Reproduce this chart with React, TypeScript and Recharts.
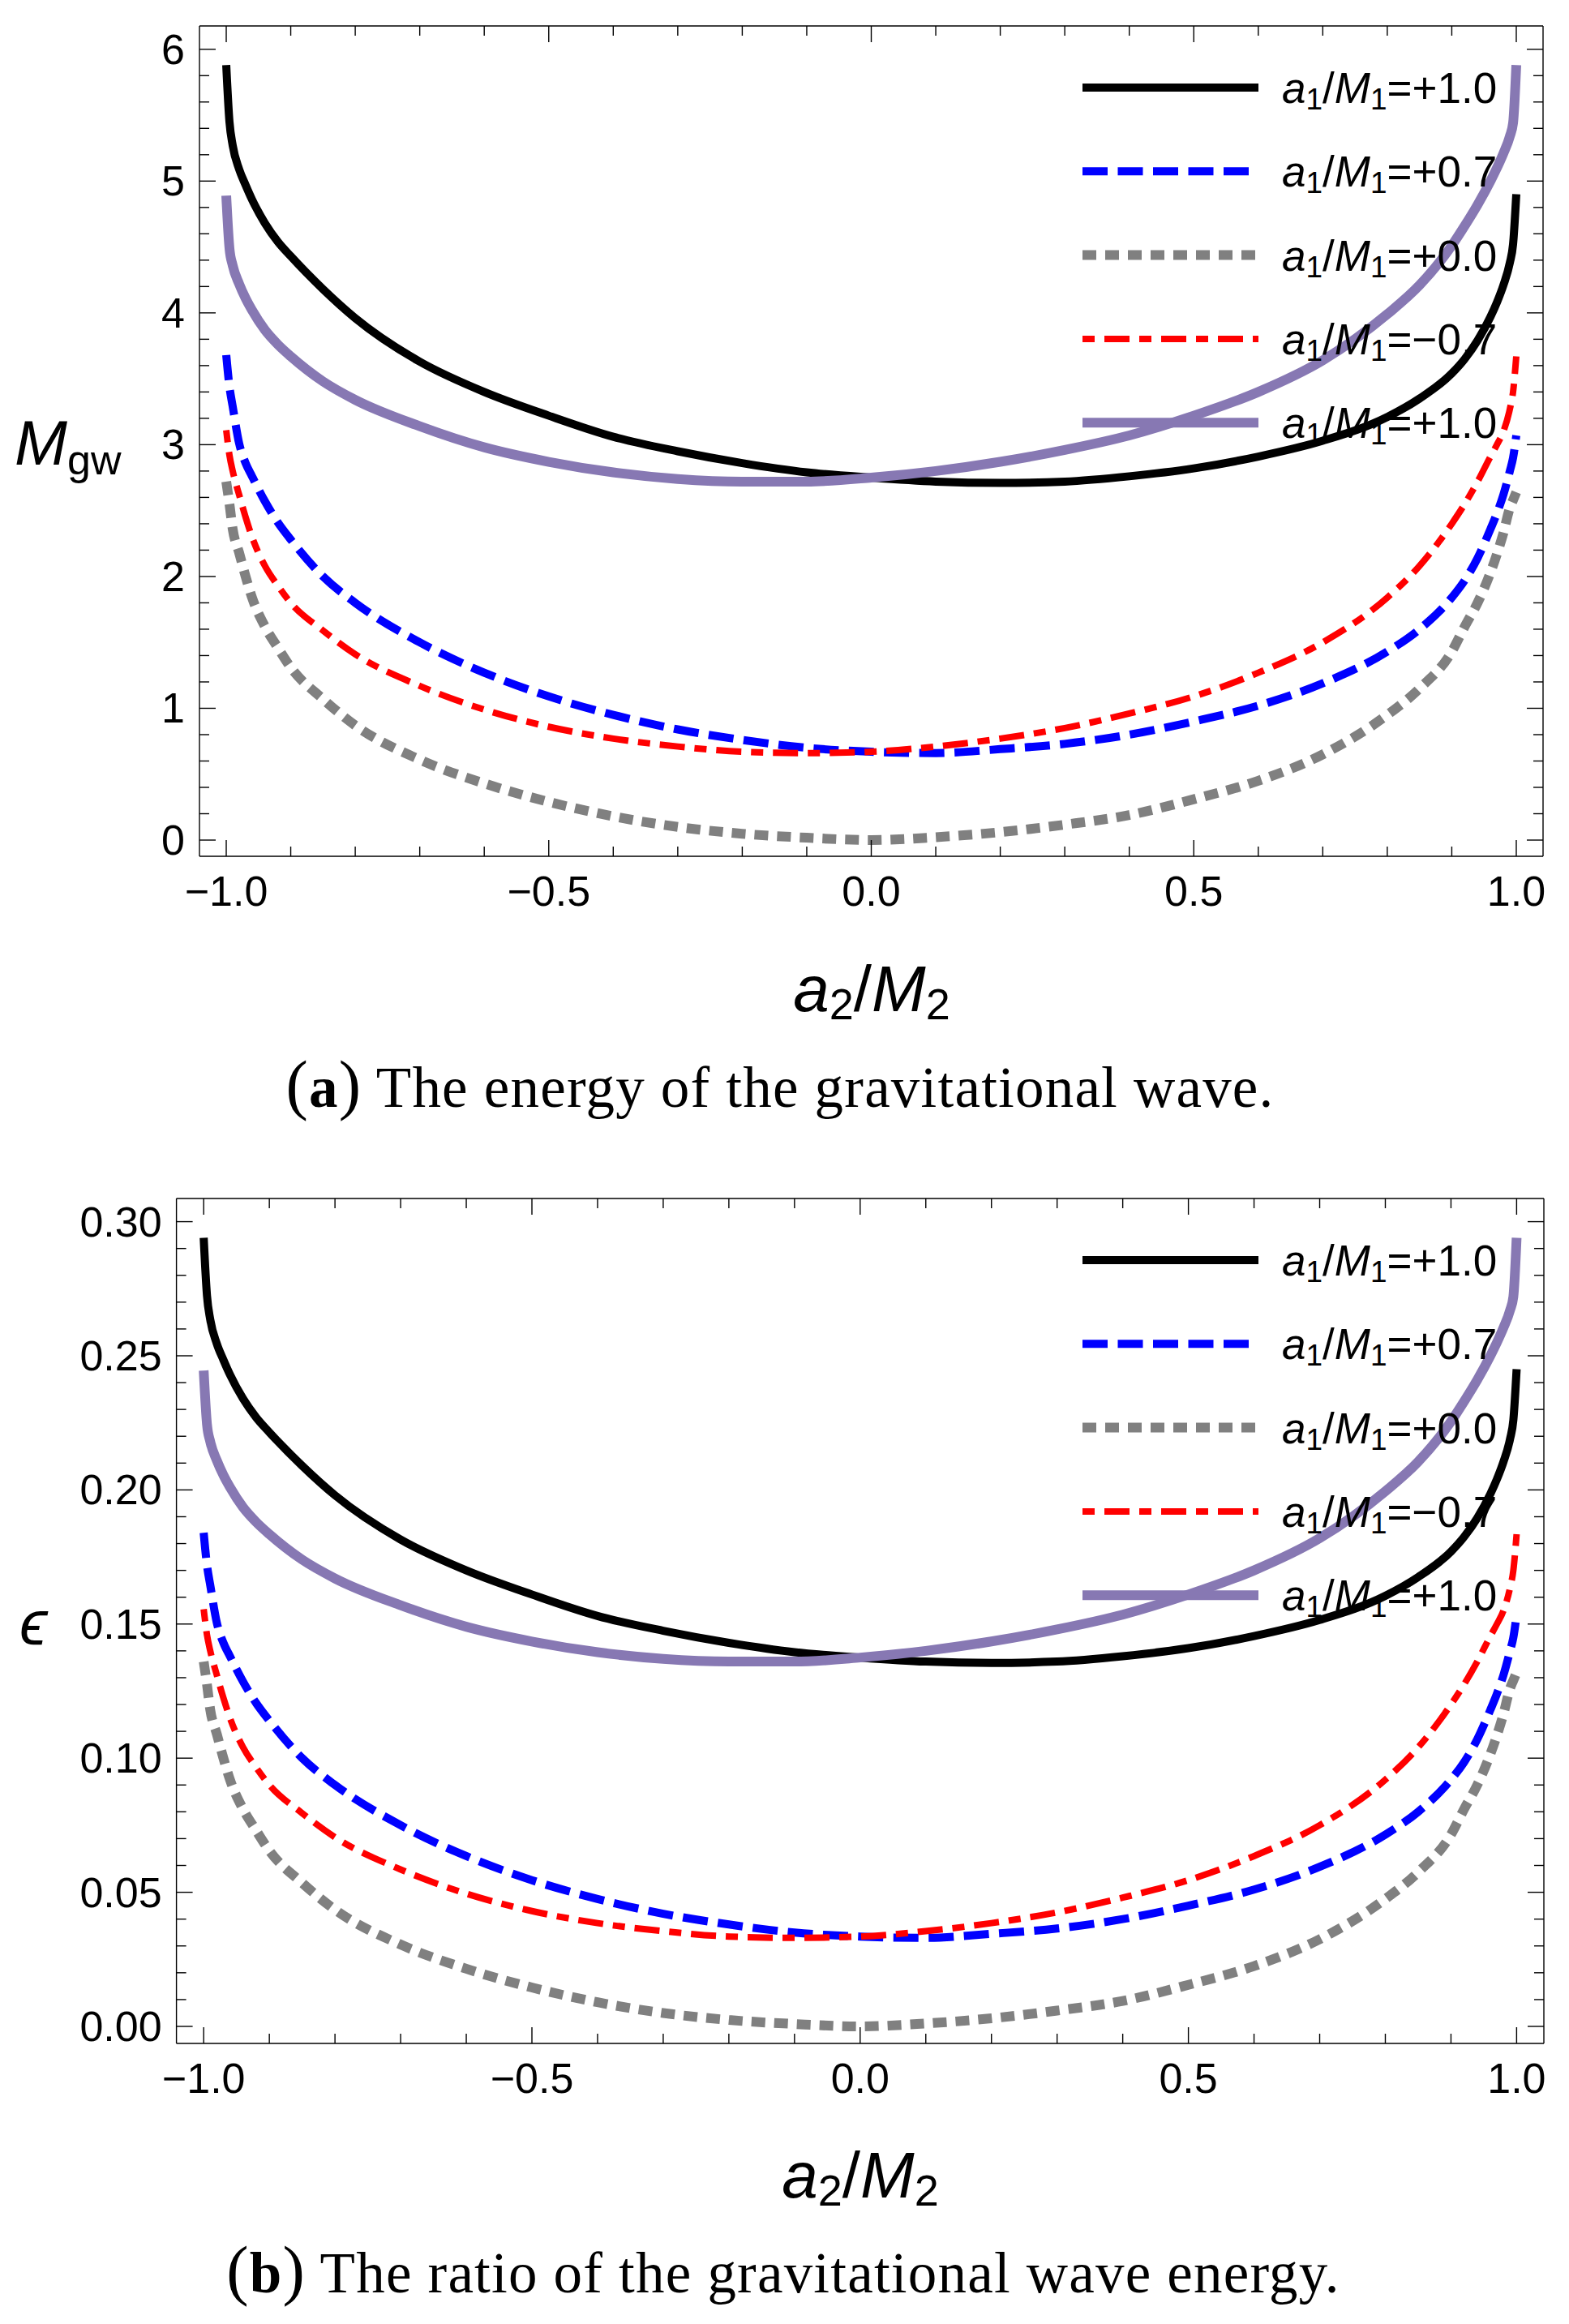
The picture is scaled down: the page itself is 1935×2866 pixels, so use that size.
import React from 'react';
import { LineChart, Line, XAxis, YAxis, Legend } from 'recharts';

// horizontal axis: a2/M2 sample points
const a2Values = [
  -1, -0.995, -0.99, -0.98, -0.97, -0.96, -0.94, -0.92, -0.9, -0.85, -0.8, -0.7, -0.6, -0.5, -0.4, -0.3, -0.2, -0.1,
  0, 0.1, 0.2, 0.3, 0.4, 0.5, 0.6, 0.7, 0.8, 0.85, 0.9, 0.92, 0.94, 0.96, 0.97, 0.98, 0.99, 0.995, 1,
];

// (a) M_gw
const mgwPlus10 = [5.88, 5.45, 5.27, 5.09, 4.97, 4.86, 4.68, 4.54, 4.43, 4.18, 3.96, 3.63, 3.4, 3.22, 3.06, 2.95, 2.86, 2.79, 2.75, 2.72, 2.71, 2.72, 2.76, 2.82, 2.91, 3.03, 3.21, 3.35, 3.54, 3.65, 3.79, 3.97, 4.08, 4.21, 4.38, 4.52, 4.9];
const mgwPlus07 = [3.68, 3.44, 3.29, 3.01, 2.86, 2.76, 2.57, 2.41, 2.28, 2.0, 1.8, 1.5, 1.27, 1.09, 0.95, 0.84, 0.76, 0.7, 0.67, 0.66, 0.69, 0.73, 0.8, 0.9, 1.02, 1.19, 1.43, 1.6, 1.84, 1.97, 2.14, 2.36, 2.48, 2.62, 2.8, 2.9, 3.07];
const mgwZero = [2.72, 2.55, 2.36, 2.18, 2.0, 1.84, 1.62, 1.46, 1.31, 1.07, 0.87, 0.61, 0.43, 0.29, 0.18, 0.1, 0.048, 0.018, 0, 0.022, 0.06, 0.117, 0.19, 0.31, 0.45, 0.65, 0.95, 1.15, 1.43, 1.62, 1.8, 2.03, 2.17, 2.33, 2.52, 2.58, 2.64];
const mgwMinus07 = [3.11, 2.92, 2.8, 2.62, 2.45, 2.3, 2.08, 1.93, 1.8, 1.59, 1.41, 1.17, 0.99, 0.86, 0.77, 0.71, 0.67, 0.66, 0.67, 0.71, 0.77, 0.85, 0.96, 1.09, 1.27, 1.5, 1.84, 2.08, 2.4, 2.55, 2.72, 2.91, 3.0, 3.1, 3.27, 3.4, 3.67];
const mgwPlus10b = [4.89, 4.49, 4.36, 4.22, 4.11, 4.02, 3.87, 3.76, 3.67, 3.48, 3.34, 3.14, 2.98, 2.87, 2.79, 2.74, 2.72, 2.72, 2.75, 2.8, 2.87, 2.96, 3.07, 3.22, 3.4, 3.64, 3.99, 4.21, 4.51, 4.66, 4.82, 5.0, 5.1, 5.21, 5.34, 5.44, 5.88];

// (b) epsilon
const epsPlus10 = [0.294, 0.2725, 0.2635, 0.2545, 0.2485, 0.243, 0.234, 0.227, 0.2215, 0.209, 0.198, 0.1815, 0.17, 0.161, 0.153, 0.1475, 0.143, 0.1395, 0.1375, 0.136, 0.1355, 0.136, 0.138, 0.141, 0.1455, 0.1515, 0.1605, 0.1675, 0.177, 0.1825, 0.1895, 0.1985, 0.204, 0.2105, 0.219, 0.226, 0.245];
const epsPlus07 = [0.184, 0.172, 0.1645, 0.1505, 0.143, 0.138, 0.1285, 0.1205, 0.114, 0.1, 0.09, 0.075, 0.0635, 0.0545, 0.0475, 0.042, 0.038, 0.035, 0.0335, 0.033, 0.0345, 0.0365, 0.04, 0.045, 0.051, 0.0595, 0.0715, 0.08, 0.092, 0.0985, 0.107, 0.118, 0.124, 0.131, 0.14, 0.145, 0.1535];
const epsZero = [0.136, 0.1275, 0.118, 0.109, 0.1, 0.092, 0.081, 0.073, 0.0655, 0.0535, 0.0435, 0.0305, 0.0215, 0.0145, 0.009, 0.005, 0.0024, 0.0009, 0, 0.0011, 0.003, 0.0059, 0.0095, 0.0155, 0.0225, 0.0325, 0.0475, 0.0575, 0.0715, 0.081, 0.09, 0.1015, 0.1085, 0.1165, 0.126, 0.129, 0.132];
const epsMinus07 = [0.1555, 0.146, 0.14, 0.131, 0.1225, 0.115, 0.104, 0.0965, 0.09, 0.0795, 0.0705, 0.0585, 0.0495, 0.043, 0.0385, 0.0355, 0.0335, 0.033, 0.0335, 0.0355, 0.0385, 0.0425, 0.048, 0.0545, 0.0635, 0.075, 0.092, 0.104, 0.12, 0.1275, 0.136, 0.1455, 0.15, 0.155, 0.1635, 0.17, 0.1835];
const epsPlus10b = [0.2445, 0.2245, 0.218, 0.211, 0.2055, 0.201, 0.1935, 0.188, 0.1835, 0.174, 0.167, 0.157, 0.149, 0.1435, 0.1395, 0.137, 0.136, 0.136, 0.1375, 0.14, 0.1435, 0.148, 0.1535, 0.161, 0.17, 0.182, 0.1995, 0.2105, 0.2255, 0.233, 0.241, 0.25, 0.255, 0.2605, 0.267, 0.272, 0.294];

const legendValues = ['+1.0', '+0.7', '+0.0', '\u22120.7', '+1.0'];

// ticks
const xMajorTicks = [-1, -0.5, 0, 0.5, 1];
const xMajorLabels = ['\u22121.0', '\u22120.5', '0.0', '0.5', '1.0'];
const xAllTicks = [-1, -0.9, -0.8, -0.7, -0.6, -0.5, -0.4, -0.3, -0.2, -0.1, 0, 0.1, 0.2, 0.3, 0.4, 0.5, 0.6, 0.7, 0.8, 0.9, 1];

const mgwMajorTicks = [0, 1, 2, 3, 4, 5, 6];
const mgwMajorLabels = ['0', '1', '2', '3', '4', '5', '6'];
const mgwAllTicks = [0, 0.2, 0.4, 0.6, 0.8, 1, 1.2, 1.4, 1.6, 1.8, 2, 2.2, 2.4, 2.6, 2.8, 3, 3.2, 3.4, 3.6, 3.8, 4, 4.2, 4.4, 4.6, 4.8, 5, 5.2, 5.4, 5.6, 5.8, 6];

const epsMajorTicks = [0, 0.05, 0.1, 0.15, 0.2, 0.25, 0.3];
const epsMajorLabels = ['0.00', '0.05', '0.10', '0.15', '0.20', '0.25', '0.30'];
const epsAllTicks = [0, 0.01, 0.02, 0.03, 0.04, 0.05, 0.06, 0.07, 0.08, 0.09, 0.1, 0.11, 0.12, 0.13, 0.14, 0.15, 0.16, 0.17, 0.18, 0.19, 0.2, 0.21, 0.22, 0.23, 0.24, 0.25, 0.26, 0.27, 0.28, 0.29, 0.3];

const SANS = '"Liberation Sans", Arial, Helvetica, sans-serif';
const SERIF = '"Liberation Serif", "Times New Roman", serif';

const seriesStyles = [
  { key: 's0', color: '#000000', width: 10, dash: undefined },
  { key: 's1', color: '#0000ff', width: 10, dash: '31 12.5' },
  { key: 's2', color: '#808080', width: 12, dash: '17 11' },
  { key: 's3', color: '#ff0000', width: 8, dash: '15 12 31 12' },
  { key: 's4', color: '#8778b3', width: 12, dash: undefined },
];

const buildRows = (cols: number[][]) =>
  a2Values.map((x, i) => {
    const row: Record<string, number> = { x };
    cols.forEach((c, j) => (row['s' + j] = c[i]));
    return row;
  });

const rowsA = buildRows([mgwPlus10, mgwPlus07, mgwZero, mgwMinus07, mgwPlus10b]);
const rowsB = buildRows([epsPlus10, epsPlus07, epsZero, epsMinus07, epsPlus10b]);

const X_DOMAIN = [-1.0415, 1.0415];

function makeTick(side: string, majors: number[], labels: string[]) {
  return (props: any) => {
    const { x, y, payload } = props;
    const idx = majors.findIndex((m) => Math.abs(m - payload.value) < 1e-9);
    const len = idx >= 0 ? 20 : 12;
    const ln = { stroke: '#000', strokeWidth: 1.4 };
    if (side === 'bottom') {
      return (
        <g>
          <line x1={x} x2={x} y1={y} y2={y - len} {...ln} />
          {idx >= 0 && (
            <text x={x} y={y + 61} textAnchor="middle" fontFamily={SANS} fontSize={52} fill="#000">
              {labels[idx]}
            </text>
          )}
        </g>
      );
    }
    if (side === 'top') return <line x1={x} x2={x} y1={y} y2={y + len} {...ln} />;
    if (side === 'left') {
      return (
        <g>
          <line x1={x} x2={x + len} y1={y} y2={y} {...ln} />
          {idx >= 0 && (
            <text x={x - 18} y={y + 18} textAnchor="end" fontFamily={SANS} fontSize={52} fill="#000">
              {labels[idx]}
            </text>
          )}
        </g>
      );
    }
    return <line x1={x} x2={x - len} y1={y} y2={y} {...ln} />;
  };
}

function LegendBox() {
  return (
    <svg width={600} height={520} style={{ display: 'block', overflow: 'visible' }}>
      {seriesStyles.map((s, i) => {
        const cy = 68 + i * 103.3;
        return (
          <g key={s.key}>
            <line x1={15} x2={232} y1={cy} y2={cy} stroke={s.color} strokeWidth={s.width} strokeDasharray={s.dash} />
            <text x={261} y={cy + 19} fontFamily={SANS} fontSize={53} fill="#000">
              <tspan fontStyle="italic">a</tspan>
              <tspan fontSize={37} dy={8}>1</tspan>
              <tspan dy={-8}>/</tspan>
              <tspan fontStyle="italic">M</tspan>
              <tspan fontSize={37} dy={8}>1</tspan>
              <tspan dy={-8}>={legendValues[i]}</tspan>
            </text>
          </g>
        );
      })}
    </svg>
  );
}

function Panel(props: {
  rows: any[];
  height: number;
  margin: { top: number; right: number; bottom: number; left: number };
  yDomain: number[];
  yTicks: number[];
  yMajors: number[];
  yLabels: string[];
}) {
  const { rows, height, margin, yDomain, yTicks, yMajors, yLabels } = props;
  const axisLine = { stroke: '#000', strokeWidth: 1.4 };
  // axes are 1px thick so that Recharts draws them; the margins are reduced by the same amount
  return (
    <LineChart width={1935} height={height} data={rows} margin={margin}>
      <XAxis xAxisId="b" dataKey="x" type="number" domain={X_DOMAIN} allowDataOverflow ticks={xAllTicks} interval={0}
        height={1} tickSize={0} tickMargin={0} tickLine={false} axisLine={axisLine}
        tick={makeTick('bottom', xMajorTicks, xMajorLabels)} />
      <XAxis xAxisId="t" orientation="top" dataKey="x" type="number" domain={X_DOMAIN} allowDataOverflow ticks={xAllTicks} interval={0}
        height={1} tickSize={0} tickMargin={0} tickLine={false} axisLine={axisLine}
        tick={makeTick('top', xMajorTicks, xMajorLabels)} />
      <YAxis yAxisId="l" type="number" domain={yDomain} allowDataOverflow ticks={yTicks} interval={0}
        width={1} tickSize={0} tickMargin={0} tickLine={false} axisLine={axisLine}
        tick={makeTick('left', yMajors, yLabels)} />
      <YAxis yAxisId="r" orientation="right" type="number" domain={yDomain} allowDataOverflow ticks={yTicks} interval={0}
        width={1} tickSize={0} tickMargin={0} tickLine={false} axisLine={axisLine}
        tick={makeTick('right', yMajors, yLabels)} />
      {seriesStyles.map((s) => (
        <Line key={s.key} xAxisId="b" yAxisId="l" dataKey={s.key} type="monotone" stroke={s.color}
          strokeWidth={s.width} strokeDasharray={s.dash} dot={false} activeDot={false} isAnimationActive={false} />
      ))}
      <Legend layout="vertical" align="center" verticalAlign="middle"
        wrapperStyle={{ left: 1320, top: 40, width: 600, height: 520 }} content={() => <LegendBox />} />
    </LineChart>
  );
}

const CAPTION_STYLE = { letterSpacing: 1.2 };

export default function App() {
  return (
    <div style={{ position: 'absolute', left: 0, top: 0, width: 1935, height: 2866, background: '#fff' }}>
      <svg width={1935} height={2866} style={{ position: 'absolute', left: 0, top: 0 }}>
        {/* panel (a) titles */}
        <text x={18} y={573} fontFamily={SANS} fontSize={78} fill="#000">
          <tspan fontStyle="italic">M</tspan>
          <tspan fontSize={52} dy={12}>gw</tspan>
        </text>
        <text x={1075} y={1247} textAnchor="middle" fontFamily={SANS} fontSize={80} fill="#000">
          <tspan fontStyle="italic">a</tspan>
          <tspan fontSize={54} dy={10}>2</tspan>
          <tspan dy={-10}>/</tspan>
          <tspan fontStyle="italic">M</tspan>
          <tspan fontSize={54} dy={10}>2</tspan>
        </text>
        <text x={962} y={1365} textAnchor="middle" fontFamily={SERIF} fontSize={71} fill="#000" style={CAPTION_STYLE}>
          <tspan fontSize={82}>(</tspan>
          <tspan fontWeight="bold">a</tspan>
          <tspan fontSize={82}>)</tspan>
          <tspan> The energy of the gravitational wave.</tspan>
        </text>
        {/* panel (b) titles */}
        <text x={24} y={2028} fontFamily={SANS} fontSize={78} fontStyle="italic" fill="#000">
          {'\u03F5'}
        </text>
        <text x={1061} y={2710} textAnchor="middle" fontFamily={SANS} fontSize={80} fill="#000">
          <tspan fontStyle="italic">a</tspan>
          <tspan fontSize={54} dy={10}>2</tspan>
          <tspan dy={-10}>/</tspan>
          <tspan fontStyle="italic">M</tspan>
          <tspan fontSize={54} dy={10}>2</tspan>
        </text>
        <text x={966} y={2827} textAnchor="middle" fontFamily={SERIF} fontSize={71} fill="#000" style={CAPTION_STYLE}>
          <tspan fontSize={82}>(</tspan>
          <tspan fontWeight="bold">b</tspan>
          <tspan fontSize={82}>)</tspan>
          <tspan> The ratio of the gravitational wave energy.</tspan>
        </text>
      </svg>
      <div style={{ position: 'absolute', left: 0, top: 0 }}>
        <Panel rows={rowsA} height={1130} margin={{ top: 31, right: 31, bottom: 73, left: 245 }}
          yDomain={[-0.123, 6.177]} yTicks={mgwAllTicks} yMajors={mgwMajorTicks} yLabels={mgwMajorLabels} />
      </div>
      <div style={{ position: 'absolute', left: 0, top: 1446 }}>
        <Panel rows={rowsB} height={1160} margin={{ top: 31, right: 30, bottom: 85, left: 216.6 }}
          yDomain={[-0.00635, 0.30864]} yTicks={epsAllTicks} yMajors={epsMajorTicks} yLabels={epsMajorLabels} />
      </div>
    </div>
  );
}
